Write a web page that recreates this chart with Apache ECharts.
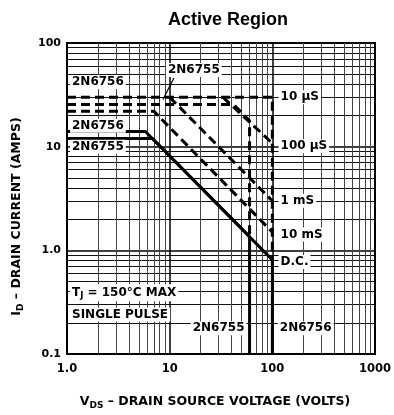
<!DOCTYPE html>
<html>
<head>
<meta charset="utf-8">
<script src="https://cdn.jsdelivr.net/npm/echarts@6/dist/echarts.min.js"></script>
<style>
  html, body { margin: 0; background: #fff; }
  #chart { width: 394px; height: 415px; }
</style>
</head>
<body>
<div id="chart"></div>
<script>
// axis ticks
var xTicks = [1, 10, 100, 1000];
var xTickText = ['1.0', '10', '100', '1000'];
var yTicks = [0.1, 1, 10, 100];
var yTickText = ['0.1', '1.0', '10', '100'];

// D.C. limits (solid), [V, A]
var dc6756 = [[1, 14], [5.8, 14], [100, 0.81], [100, 0.1]];
var dc6755 = [[1, 12], [6.8, 12], [60, 1.36], [60, 0.1]];

// pulse limits (dashed)
var us10of6756 = [[1, 30], [100, 30], [100, 0.81]];
var us10of6755 = [[1, 25.5], [42, 25.5], [60, 17.8], [60, 1.36]];
var us100 = [[33, 30], [100, 10.8]];
var ms1 = [[10, 30], [100, 3]];
var ms10 = [[1, 22], [7, 22], [100, 1.5]];

// pointer from the upper 2N6755 label
var pointer = [[11, 46], [8.6, 28.5]];

// annotations: text, anchor [V, A], align
var notes = [
  ['2N6756', [1.07, 42], 'left'],
  ['2N6755', [9.2, 55], 'left'],
  ['10 \u00b5S', [115, 30], 'left'],
  ['2N6756', [1.07, 15.9], 'left'],
  ['2N6755', [1.07, 10], 'left'],
  ['100 \u00b5S', [115, 10.1], 'left'],
  ['1 mS', [115, 3], 'left'],
  ['10 mS', [115, 1.42], 'left'],
  ['D.C.', [115, 0.77], 'left'],
  ['{m|T}{s|J}{m| = 150\u00b0C MAX}', [1.07, 0.39], 'left'],
  ['SINGLE PULSE', [1.07, 0.24], 'left'],
  ['2N6755', [56, 0.177], 'right'],
  ['2N6756', [113, 0.177], 'left']
];

var FONT = 'DejaVu Sans';
var chart = echarts.init(document.getElementById('chart'));

function solid(data) {
  return { type: 'line', data: data, symbol: 'none', z: 4,
    lineStyle: { color: '#000', width: 3 } };
}
function dashed(data) {
  return { type: 'line', data: data, symbol: 'none', z: 3,
    lineStyle: { color: '#000', width: 3, type: [9, 5] } };
}

var option = {
  animation: false,
  backgroundColor: '#fff',
  title: {
    text: 'Active Region',
    left: 223, top: 6, textAlign: 'center',
    textStyle: { fontFamily: 'Liberation Sans', fontWeight: 'bold', fontSize: 18, color: '#000' }
  },
  grid: { left: 67, right: 13, top: 43, bottom: 57, show: true, borderColor: '#000', borderWidth: 2 },
  xAxis: {
    type: 'log', logBase: 10, min: 1, max: 1000,
    name: '{b|V}{s|DS}{b| \u2013 DRAIN SOURCE VOLTAGE (VOLTS)}',
    nameLocation: 'middle', nameGap: 40,
    nameTextStyle: {
      padding: [0, 12, 0, 0],
      rich: {
        b: { fontFamily: FONT, fontWeight: 'bold', fontSize: 12.5, color: '#000' },
        s: { fontFamily: FONT, fontWeight: 'bold', fontSize: 9, color: '#000', padding: [7, 0, 0, 0] }
      }
    },
    axisLine: { show: true, lineStyle: { color: '#000', width: 2 } },
    axisTick: { show: false },
    axisLabel: {
      fontFamily: FONT, fontWeight: 'bold', fontSize: 11.5, color: '#000', margin: 9,
      formatter: function (v) { var i = xTicks.indexOf(Math.round(v * 1000) / 1000); return i < 0 ? '' : xTickText[i]; }
    },
    splitLine: { show: true, lineStyle: { color: '#000', width: 1.5 } },
    minorTick: { show: false, splitNumber: 9 },
    minorSplitLine: { show: true, lineStyle: { color: '#444', width: 1 } }
  },
  yAxis: {
    type: 'log', logBase: 10, min: 0.1, max: 100,
    name: '{b|I}{s|D}{b| \u2013 DRAIN CURRENT (AMPS)}',
    nameLocation: 'middle', nameGap: 42, nameRotate: 90,
    nameTextStyle: {
      padding: [0, 36, 0, 0],
      rich: {
        b: { fontFamily: FONT, fontWeight: 'bold', fontSize: 12.5, color: '#000' },
        s: { fontFamily: FONT, fontWeight: 'bold', fontSize: 9, color: '#000', padding: [7, 0, 0, 0] }
      }
    },
    axisLine: { show: true, lineStyle: { color: '#000', width: 2 } },
    axisTick: { show: false },
    axisLabel: {
      fontFamily: FONT, fontWeight: 'bold', fontSize: 11, color: '#000', margin: 6,
      formatter: function (v) { var i = yTicks.indexOf(Math.round(v * 1000) / 1000); return i < 0 ? '' : yTickText[i]; }
    },
    splitLine: { show: true, lineStyle: { color: '#000', width: 1.5 } },
    minorTick: { show: false, splitNumber: 9 },
    minorSplitLine: { show: true, lineStyle: { color: '#111', width: 1.2 } }
  },
  series: [
    solid(dc6756),
    solid(dc6755),
    dashed(us10of6756),
    dashed(us10of6755),
    dashed(us100),
    dashed(ms1),
    dashed(ms10),
    { type: 'line', data: pointer, symbol: 'none', z: 5, lineStyle: { color: '#000', width: 1.2 } }
  ]
};
chart.setOption(option);

var graphics = notes.map(function (n) {
  var p = chart.convertToPixel({ gridIndex: 0 }, n[1]);
  return {
    type: 'text', x: p[0], y: p[1], z: 10,
    style: {
      text: n[0], align: n[2], verticalAlign: 'middle',
      fontFamily: FONT, fontWeight: 'bold', fontSize: 12, fill: '#000',
      backgroundColor: '#fff', padding: [1, 2],
      rich: {
        m: { fontFamily: FONT, fontWeight: 'bold', fontSize: 12, fill: '#000' },
        s: { fontFamily: FONT, fontWeight: 'bold', fontSize: 8.5, fill: '#000', padding: [6, 0, 0, 0] }
      }
    }
  };
});
chart.setOption({ graphic: graphics });
</script>
</body>
</html>
